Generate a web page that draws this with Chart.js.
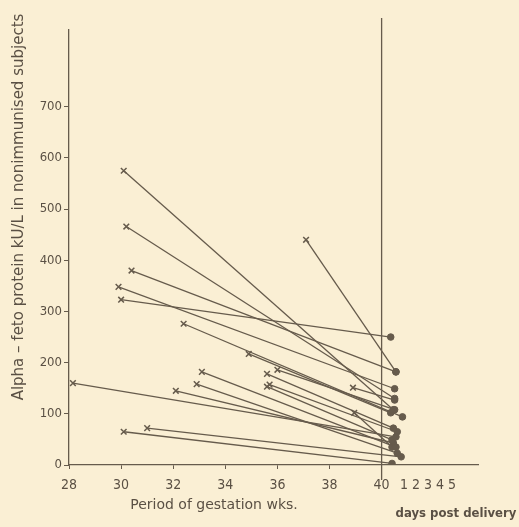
<!DOCTYPE html>
<html><head><meta charset="utf-8">
<script src="https://cdn.jsdelivr.net/npm/chart.js@4/dist/chart.umd.min.js"></script>
<style>html,body{margin:0;padding:0;background:#faefd4;} #wrap{width:519px;height:527px;position:relative}</style>
</head><body><div id="wrap"><canvas id="c" width="519" height="527"></canvas></div>
<script>
// Tick labels
const weekTicks = [28, 30, 32, 34, 36, 38, 40];
const dayTicks = [1, 2, 3, 4, 5];
const dayTickWeeks = [40.86, 41.32, 41.78, 42.24, 42.7];
const yTicks = [0, 100, 200, 300, 400, 500, 600, 700];

// Each subject: gestation sample (week, AFP) -> post-delivery sample (week position, AFP)
const startWeek = [28.15, 30.1, 30.2, 30.4, 29.9, 30.0, 32.4, 34.9, 33.1, 32.9, 36.0, 35.6, 35.7, 35.6, 32.1, 31.0, 30.1, 38.9, 37.1, 38.95];
const startAFP  = [160, 575, 466, 380, 348, 323, 276, 217, 182, 158, 186, 178, 157, 153, 145, 72, 65, 151, 440, 102];
const endWeek   = [40.55, 40.45, 40.5, 40.55, 40.5, 40.35, 40.8, 40.35, 40.55, 40.6, 40.5, 40.45, 40.6, 40.4, 40.45, 40.75, 40.4, 40.5, 40.55, 40.4];
const endAFP    = [55, 108, 130, 182, 149, 250, 94, 102, 35, 23, 108, 72, 65, 49, 43, 16, 3, 127, 182, 35];

const ink = '#665b4c';
const bg = '#faefd4';
const fontFam = '"DejaVu Sans Condensed", "DejaVu Sans", sans-serif';
const wideFam = '"DejaVu Sans", sans-serif';

const datasets = startWeek.map((w, i) => ({
  data: [{x: w, y: startAFP[i]}, {x: endWeek[i], y: endAFP[i]}],
  borderColor: ink,
  borderWidth: 1.3,
  backgroundColor: ink,
  pointStyle: ['crossRot', 'circle'],
  pointRadius: [4, 3.3],
  pointBorderWidth: [1.5, 1],
  pointBorderColor: ink,
  pointBackgroundColor: ink,
  showLine: true,
  fill: false,
  tension: 0
}));

const decor = {
  id: 'decor',
  beforeDraw(chart) {
    const ctx = chart.ctx;
    ctx.save();
    ctx.fillStyle = bg;
    ctx.fillRect(0, 0, chart.width, chart.height);
    ctx.restore();
  },
  afterDraw(chart) {
    const ctx = chart.ctx;
    const xs = chart.scales.x;
    const x40 = xs.getPixelForValue(40);
    ctx.save();
    ctx.strokeStyle = ink;
    ctx.lineWidth = 1.3;
    ctx.beginPath();
    ctx.moveTo(x40, 18);
    ctx.lineTo(x40, 480);
    ctx.stroke();
    ctx.fillStyle = '#5a5044';
    ctx.textAlign = 'center';
    ctx.textBaseline = 'middle';
    ctx.font = '14px ' + wideFam;
    ctx.fillText('Period of gestation wks.', 214, 505, 184);
    ctx.font = 'bold 13px ' + fontFam;
    ctx.fillText('days post delivery', 456, 514, 125);
    ctx.translate(19, 207);
    ctx.rotate(-Math.PI / 2);
    ctx.font = '15px ' + wideFam;
    ctx.fillText('Alpha \u2013 feto protein kU/L in nonimmunised subjects', 0, 0, 404);
    ctx.restore();
  }
};

new Chart(document.getElementById('c'), {
  type: 'scatter',
  data: { datasets },
  plugins: [decor],
  options: {
    responsive: false,
    animation: false,
    devicePixelRatio: 1,
    layout: { padding: { top: 30, right: 41, left: 0, bottom: 0 } },
    plugins: { legend: { display: false }, tooltip: { enabled: false } },
    scales: {
      x: {
        type: 'linear', min: 28, max: 43.7,
        afterFit(s) { s.height = 62; },
        afterBuildTicks(s) { s.ticks = weekTicks.concat(dayTickWeeks).map(v => ({ value: v })); },
        ticks: {
          autoSkip: false, maxRotation: 0, padding: 8, color: '#5a5044',
          font: { family: fontFam, size: 14 },
          callback: (v, i) => i < weekTicks.length ? String(weekTicks[i]) : String(dayTicks[i - weekTicks.length])
        },
        grid: {
          drawOnChartArea: false, drawTicks: true, tickLength: 4,
          color: c => (c.index >= weekTicks.length ? 'rgba(0,0,0,0)' : ink)
        },
        border: { color: ink, width: 1.3 }
      },
      y: {
        type: 'linear', min: 0, max: 850,
        afterFit(s) { s.width = 69; },
        afterBuildTicks(s) { s.ticks = yTicks.map(v => ({ value: v })); },
        ticks: { padding: 2, color: '#5a5044', font: { family: fontFam, size: 13 } },
        grid: { drawOnChartArea: false, drawTicks: true, tickLength: 5, color: ink },
        border: { color: ink, width: 1.3 }
      }
    }
  }
});
</script></body></html>
